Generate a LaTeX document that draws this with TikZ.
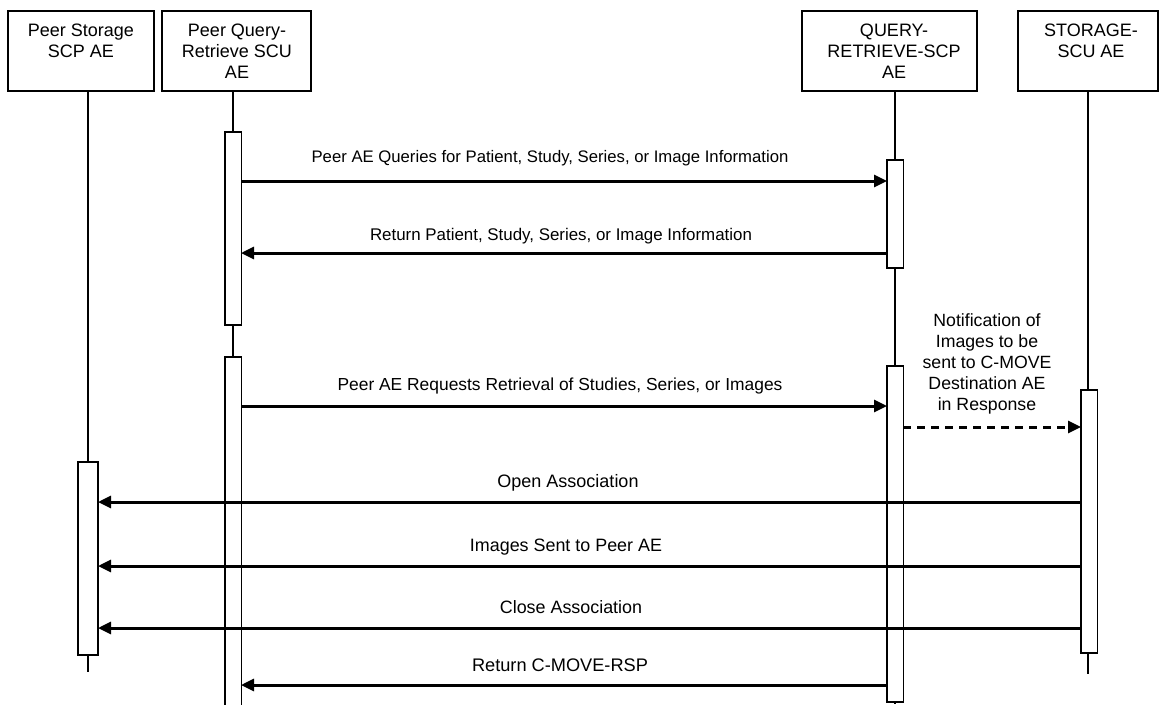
\documentclass[tikz,border=0pt]{standalone}
\usepackage{fontspec}
\setmainfont{Liberation Sans}
\usetikzlibrary{arrows.meta}
\begin{document}
\begin{tikzpicture}[x=1pt,y=-1pt,
  every node/.style={font=\fontsize{17.8}{21}\selectfont},
  fs/.style={font=\fontsize{#1}{21}\selectfont},
  hdrbox/.style={draw, line width=1.5pt, inner sep=0pt},
  hdrtext/.style={align=center, anchor=base, inner sep=0pt, fs=18},
  life/.style={line width=1.5pt},
  actbox/.style={draw, fill=white, line width=1.5pt, inner sep=0pt, minimum width=16.5pt},
  msg/.style={line width=3pt, -{Triangle[length=13pt,width=12pt]}},
  dmsg/.style={msg, dash pattern=on 8pt off 6pt},
  lbl/.style={anchor=base, inner sep=0pt}]
\useasboundingbox (0,0) rectangle (1159,704);
% header boxes
\node[hdrbox, minimum width=146pt, minimum height=80pt] (hps) at (81,51) {};
\node[hdrtext] (tps) at (81,57) {Peer Storage\\SCP AE};
\node[hdrbox, minimum width=149pt, minimum height=80pt] (hpq) at (236.5,51) {};
\node[hdrtext] (tpq) at (237,78) {Peer Query-\\Retrieve SCU\\AE};
\node[hdrbox, minimum width=175pt, minimum height=80pt] (hqr) at (889.5,51) {};
\node[hdrtext] (tqr) at (894,78) {QUERY-\\RETRIEVE-SCP\\AE};
\node[hdrbox, minimum width=140pt, minimum height=80pt] (hss) at (1088,51) {};
\node[hdrtext] (tss) at (1091,57) {STORAGE-\\SCU AE};
% lifeline ends
\coordinate (eps) at (88,672);
\coordinate (epq) at (233,710);
\coordinate (eqr) at (895,704);
\coordinate (ess) at (1088,674);
\draw[life] (hps.south -| eps) -- (eps);
\draw[life] (hpq.south -| epq) -- (epq);
\draw[life] (hqr.south -| eqr) -- (eqr);
\draw[life] (hss.south -| ess) -- (ess);
% activation boxes
\node[actbox, minimum width=20pt, minimum height=193pt] (aps) at (88,558.5) {};
\node[actbox, minimum height=193pt] (apq1) at (233,228.5) {};
\node[actbox, minimum height=360pt] (apq2) at (233,537) {};
\node[actbox, minimum height=108pt] (aqr1) at (895,214) {};
\node[actbox, minimum height=336pt] (aqr2) at (895,534) {};
\node[actbox, minimum height=263pt] (ass) at (1089,521.5) {};
% message end points
\coordinate (m1a) at (241,181);  \coordinate (m1b) at (887,181);
\coordinate (m2a) at (887,253);  \coordinate (m2b) at (241,253);
\coordinate (m3a) at (241,406);  \coordinate (m3b) at (887,406);
\coordinate (m4a) at (903,427);  \coordinate (m4b) at (1081,427);
\coordinate (m5a) at (1081,502); \coordinate (m5b) at (98,502);
\coordinate (m6a) at (1081,566); \coordinate (m6b) at (98,566);
\coordinate (m7a) at (1081,628); \coordinate (m7b) at (98,628);
\coordinate (m8a) at (887,685);  \coordinate (m8b) at (241,685);
\draw[msg] (m1a) -- (m1b);
\draw[msg] (m2a) -- (m2b);
\draw[msg] (m3a) -- (m3b);
\draw[dmsg] (m4a) -- (m4b);
\draw[msg] (m5a) -- (m5b);
\draw[msg] (m6a) -- (m6b);
\draw[msg] (m7a) -- (m7b);
\draw[msg] (m8a) -- (m8b);
% labels
\node[lbl, fs=16.7] (l1) at (550,162) {Peer AE Queries for Patient, Study, Series, or Image Information};
\node[lbl, fs=16.9] (l2) at (561,240) {Return Patient, Study, Series, or Image Information};
\node[lbl, fs=17.4] (l3) at (560,390) {Peer AE Requests Retrieval of Studies, Series, or Images};
\node[lbl, align=center, fs=17.7] (l4) at (987,410) {Notification of\\Images to be\\sent to C-MOVE\\Destination AE\\in Response};
\node[lbl, fs=18] (l5) at (568,487) {Open Association};
\node[lbl, fs=17.9] (l6) at (566,551) {Images Sent to Peer AE};
\node[lbl, fs=17.9] (l7) at (571,613) {Close Association};
\node[lbl, fs=18.2] (l8) at (560,671) {Return C-MOVE-RSP};
\end{tikzpicture}
\end{document}
